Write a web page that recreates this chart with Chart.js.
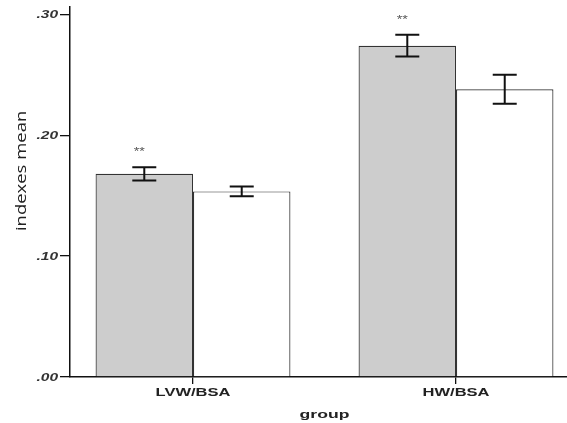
<!DOCTYPE html>
<html>
<head>
<meta charset="utf-8">
<script src="https://cdn.jsdelivr.net/npm/chart.js@4.4.1/dist/chart.umd.min.js"></script>
<style>
  html, body { margin: 0; padding: 0; background: #ffffff; }
  #wrap { width: 567px; height: 423px; position: relative; }
</style>
</head>
<body>
<div id="wrap"><canvas id="chart"></canvas></div>
<script>
// Groups along the x axis
const categories = ['LVW/BSA', 'HW/BSA'];
// Grey bars: means and error half-widths
const greyMeans = [0.168, 0.274];
const greyErrors = [0.0055, 0.009];
// White bars: means and error half-widths
const whiteMeans = [0.1535, 0.238];
const whiteErrors = [0.004, 0.012];
// Significance markers over the grey bars
const greyMarks = ['**', '**'];
// Y axis ticks and their labels
const yTickValues = [0, 0.1, 0.2, 0.3];
const yTickLabels = ['.00', '.10', '.20', '.30'];

const positions = categories.map((_, i) => i + 1);
const toPoints = (vals) => vals.map((v, i) => ({ x: positions[i], y: v }));

// Text drawn with a horizontal stretch (wide, flattened lettering)
function stretchedText(ctx, text, x, y, font, color, align, sx) {
  ctx.save();
  ctx.translate(x, y);
  ctx.scale(sx, 1);
  ctx.font = font;
  ctx.fillStyle = color;
  ctx.textAlign = align;
  ctx.textBaseline = 'alphabetic';
  ctx.fillText(text, 0, 0);
  ctx.restore();
}

// Error bars and significance stars drawn from the data through the scales
const errorBarPlugin = {
  id: 'errorBars',
  afterDatasetsDraw(chart) {
    const { ctx, scales: { y } } = chart;
    chart.data.datasets.forEach((ds, di) => {
      const meta = chart.getDatasetMeta(di);
      meta.data.forEach((bar, i) => {
        const m = ds.data[i].y, e = ds.errors[i];
        const yTop = y.getPixelForValue(m + e);
        const yBot = y.getPixelForValue(m - e);
        const cx = bar.x, cap = 12;
        ctx.save();
        ctx.strokeStyle = '#111';
        ctx.lineWidth = 2;
        ctx.beginPath();
        ctx.moveTo(cx, yTop); ctx.lineTo(cx, yBot);
        ctx.moveTo(cx - cap, yTop); ctx.lineTo(cx + cap, yTop);
        ctx.moveTo(cx - cap, yBot); ctx.lineTo(cx + cap, yBot);
        ctx.stroke();
        ctx.restore();
        if (ds.marks && ds.marks[i]) {
          stretchedText(ctx, ds.marks[i], cx - 5, yTop - 12,
            '11px "Liberation Sans", Arial, sans-serif', '#555', 'center', 1.3);
        }
      });
    });
  }
};

// Axis labels and titles
const axisTextPlugin = {
  id: 'axisText',
  afterDraw(chart) {
    const { ctx, chartArea, scales: { x, y } } = chart;
    // category labels under the x ticks
    x.ticks.forEach((t) => {
      const label = categories[positions.indexOf(t.value)];
      if (label) {
        stretchedText(ctx, label, x.getPixelForValue(t.value), chartArea.bottom + 18.5,
          'bold 11px "Liberation Sans", Arial, sans-serif', '#222', 'center', 1.5);
      }
    });
    // value labels left of the y ticks
    y.ticks.forEach((t) => {
      const label = yTickLabels[yTickValues.indexOf(t.value)];
      if (label) {
        stretchedText(ctx, label, chartArea.left - 12, y.getPixelForValue(t.value) + 4,
          'italic bold 10px "Liberation Sans", Arial, sans-serif', '#333', 'right', 1.55);
      }
    });
    // x axis title
    stretchedText(ctx, 'group', (chartArea.left + chartArea.right) / 2 + 6, chartArea.bottom + 40.5,
      'bold 11px "Liberation Sans", Arial, sans-serif', '#222', 'center', 1.6);
    // y axis title, rotated
    const cy = chartArea.top + (chartArea.bottom - chartArea.top) * 0.443;
    ctx.save();
    ctx.translate(22, cy);
    ctx.rotate(-Math.PI / 2);
    ctx.scale(1.32, 1);
    ctx.fillStyle = '#222';
    ctx.font = '14px "Open Sans", sans-serif';
    ctx.textAlign = 'center';
    ctx.textBaseline = 'middle';
    ctx.fillText('indexes mean', 0, 0);
    ctx.restore();
  }
};

new Chart(document.getElementById('chart'), {
  type: 'bar',
  data: {
    datasets: [
      {
        label: 'grey',
        data: toPoints(greyMeans),
        errors: greyErrors,
        marks: greyMarks,
        backgroundColor: '#cdcdcd',
        borderColor: '#333333',
        borderWidth: 1.2
      },
      {
        label: 'white',
        data: toPoints(whiteMeans),
        errors: whiteErrors,
        backgroundColor: '#ffffff',
        borderColor: '#333333',
        borderWidth: 1.2
      }
    ]
  },
  options: {
    responsive: true,
    maintainAspectRatio: false,
    animation: false,
    devicePixelRatio: 1,
    layout: { padding: { top: 7, right: 0, left: 0, bottom: 0 } },
    datasets: { bar: { categoryPercentage: 0.741, barPercentage: 1.0 } },
    plugins: { legend: { display: false }, tooltip: { enabled: false } },
    scales: {
      x: {
        type: 'linear',
        offset: false,
        min: 0.5323,
        max: 2.422,
        afterBuildTicks(scale) { scale.ticks = positions.map(v => ({ value: v })); },
        afterFit(scale) { scale.height = 46; },
        grid: { offset: false, drawOnChartArea: false, drawTicks: true, tickLength: 7, color: '#111', lineWidth: 1.3 },
        border: { display: true, color: '#111', width: 1.5 },
        ticks: { display: false, autoSkip: false, maxRotation: 0 }
      },
      y: {
        min: 0,
        max: 0.306,
        afterBuildTicks(scale) { scale.ticks = yTickValues.map(v => ({ value: v })); },
        afterFit(scale) { scale.width = 70; },
        grid: { drawOnChartArea: false, drawTicks: true, tickLength: 10, color: '#111', lineWidth: 1.3 },
        border: { display: true, color: '#111', width: 1.5 },
        ticks: { display: false }
      }
    }
  },
  plugins: [errorBarPlugin, axisTextPlugin]
});
</script>
</body>
</html>
